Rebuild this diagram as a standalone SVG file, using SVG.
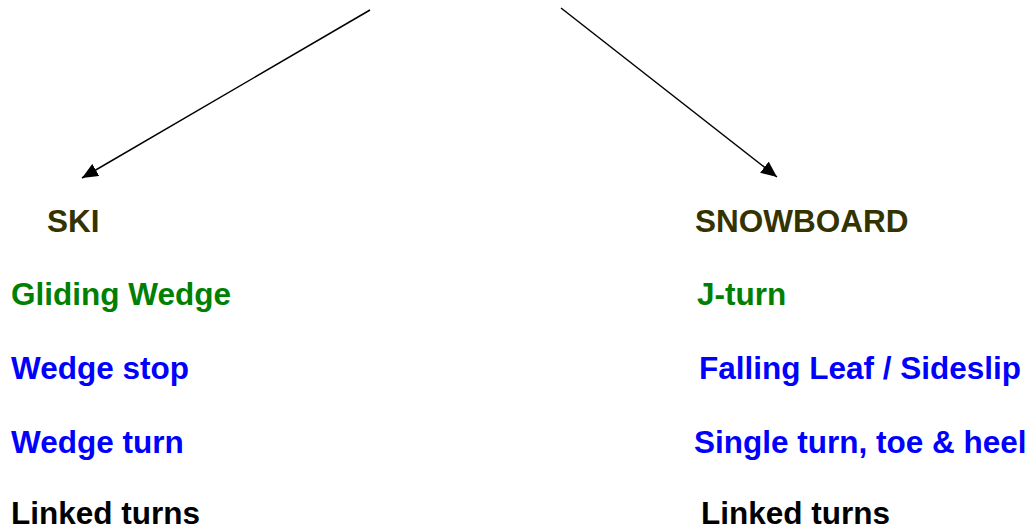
<svg xmlns="http://www.w3.org/2000/svg" width="1034" height="529" viewBox="0 0 1034 529">
  <style>
    text { font-family: "Liberation Sans", Arial, sans-serif; font-weight: bold; font-size: 31.5px; }
    .head { fill: #333300; }
    .green { fill: #008000; }
    .blue { fill: #0000FF; }
    .black { fill: #000000; }
    .conn { stroke: #000; stroke-width: 1.5; fill: none; marker-end: url(#arrow); }
  </style>
  <defs>
    <marker id="arrow" viewBox="0 0 16 14" refX="16" refY="7" markerWidth="16" markerHeight="14" markerUnits="userSpaceOnUse" orient="auto">
      <path d="M0,0 L16,7 L0,14 z" fill="#000"/>
    </marker>
  </defs>
  <rect width="1034" height="529" fill="#fff"/>
  <g id="connectors">
    <line class="conn" x1="370" y1="10" x2="82" y2="178"/>
    <line class="conn" x1="561" y1="8" x2="777" y2="177"/>
  </g>
  <g id="ski">
    <text class="head" x="47" y="232">SKI</text>
    <text class="green" x="11" y="305">Gliding Wedge</text>
    <text class="blue" x="11" y="379">Wedge stop</text>
    <text class="blue" x="11" y="453">Wedge turn</text>
    <text class="black" x="11" y="524">Linked turns</text>
  </g>
  <g id="snowboard">
    <text class="head" x="695" y="232">SNOWBOARD</text>
    <text class="green" x="697" y="305">J-turn</text>
    <text class="blue" x="699" y="379">Falling Leaf / Sideslip</text>
    <text class="blue" x="694" y="453">Single turn, toe &amp; heel</text>
    <text class="black" x="701" y="524">Linked turns</text>
  </g>
</svg>
